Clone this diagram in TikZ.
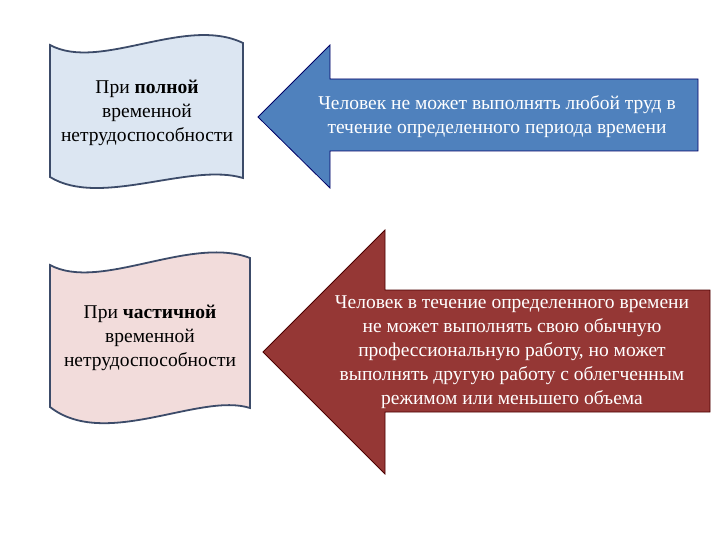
\documentclass[tikz,border=0pt]{standalone}
\usepackage{fontspec}
\setmainfont{Liberation Serif}
\begin{document}
\begin{tikzpicture}[x=1pt,y=-1pt,
  scrollA/.style={draw={rgb,255:red,60;green,75;blue,105},line width=1.8pt,fill={rgb,255:red,220;green,230;blue,242}},
  scrollB/.style={draw={rgb,255:red,60;green,75;blue,105},line width=1.8pt,fill={rgb,255:red,242;green,220;blue,219}},
  arrowA/.style={draw=blue!40!black,line width=0.8pt,fill={rgb,255:red,79;green,129;blue,189}},
  arrowB/.style={draw=red!30!black,line width=0.8pt,fill={rgb,255:red,149;green,55;blue,53}},
  txt/.style={align=center,font=\fontsize{19.5}{24}\selectfont}]
\useasboundingbox (0,0) rectangle (720,540);
\fill[white] (0,0) rectangle (720,540);
\draw[scrollA] (50,45) .. controls (100,72) and (185,15) .. (243,43)
  -- (243,178) .. controls (190,162) and (100,208) .. (50,177) -- cycle;
\node[txt] (s1) at (147,113) {При \textbf{полной}\\временной\\нетрудоспособности};
\draw[scrollB] (50,265) .. controls (100,292) and (190,235) .. (250,258)
  -- (250,408) .. controls (200,392) and (105,450) .. (50,407) -- cycle;
\node[txt] (s2) at (150,338) {При \textbf{частичной}\\временной\\нетрудоспособности};
\draw[arrowA] (258,117) -- (330,45) -- (330,79) -- (698,79) -- (698,151) -- (330,151) -- (330,188) -- cycle;
\node[txt,text=white] (a1) at (497,117) {Человек не может выполнять любой труд в\\течение определенного периода времени};
\draw[arrowB] (263,352) -- (385,230) -- (385,290) -- (710,290) -- (710,412) -- (385,412) -- (385,474) -- cycle;
\node[txt,text=white] (a2) at (512,352) {Человек в течение определенного времени\\не может выполнять свою обычную\\профессиональную работу, но может\\выполнять другую работу с облегченным\\режимом или меньшего объема};
\end{tikzpicture}
\end{document}
